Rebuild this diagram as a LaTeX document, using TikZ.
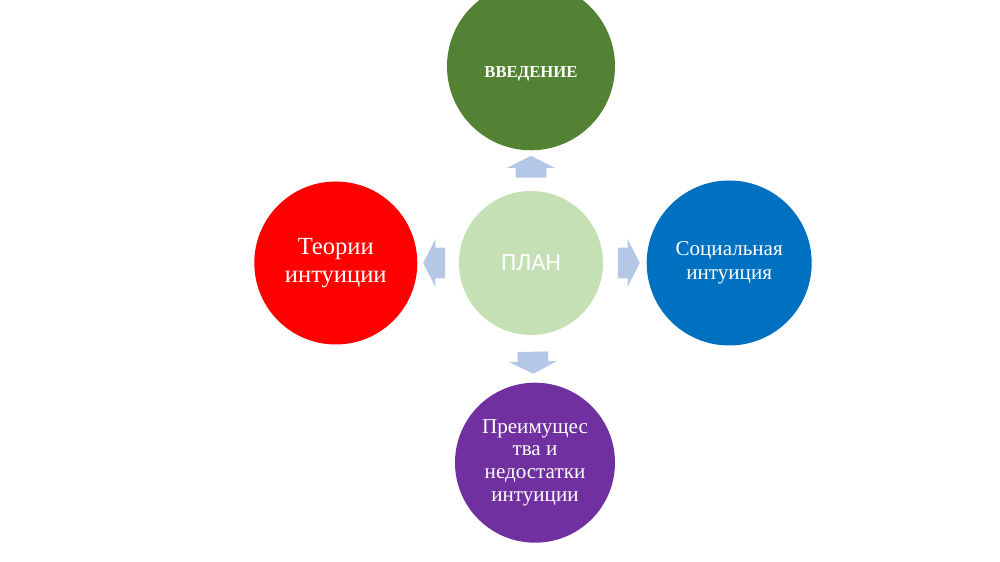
\documentclass[tikz,border=0pt]{standalone}
\usepackage{fontspec}
\setmainfont{Liberation Serif}
\newfontfamily\plansans{Carlito}
\usetikzlibrary{positioning,shapes.arrows}

\definecolor{introgreen}{HTML}{548235}
\definecolor{plangreen}{HTML}{C5E0B4}
\definecolor{theoryred}{HTML}{FF0000}
\definecolor{socialblue}{HTML}{0070C0}
\definecolor{prospurple}{HTML}{7030A0}
\definecolor{arrowblue}{HTML}{B4C7E7}

\begin{document}
\begin{tikzpicture}[
		node distance=0.85cm,
		topic/.style={circle, minimum size=3.3cm, inner sep=2pt, text=white, align=center, font=\fontsize{12}{14}\selectfont},
		pointer/.style={single arrow, fill=arrowblue, minimum height=0.44cm, inner xsep=0pt, inner ysep=0.3cm, single arrow head extend=0.17cm, single arrow tip angle=126, midway, sloped, allow upside down},
	]
		\clip (0,0) rectangle (20,11.24);
		\fill[white] (0,0) rectangle (20,11.24);
		
		\node [topic, fill=plangreen, minimum size=2.88cm, font=\plansans\fontsize{14}{16}\selectfont] (plan) at (10.62,5.98) {ПЛАН};
		\node [topic, fill=introgreen, minimum size=3.36cm, above=0.8cm of plan, font=\bfseries\fontsize{9.5}{11}\selectfont] (intro) {\raisebox{-0.22cm}[0pt][0pt]{ВВЕДЕНИЕ}};
		\node [topic, fill=theoryred, minimum size=3.26cm, left=0.82cm of plan, font=\fontsize{14}{16}\selectfont] (theory) {Теории\\интуиции};
		\node [topic, fill=socialblue, minimum size=3.3cm, right=0.86cm of plan] (social) {Социальная\\интуиция};
		\node [topic, fill=prospurple, minimum size=3.2cm, below=0.94cm of plan, xshift=0.08cm, font=\fontsize{12}{13}\selectfont] (pros) {Преимущес\\тва и\\недостатки\\интуиции};
		
		\path (plan) -- (intro) node[pointer] (to intro) {};
		\path (plan) -- (theory) node[pointer] (to theory) {};
		\path (plan) -- (social) node[pointer] (to social) {};
		\path (plan) -- (pros) node[pointer] (to pros) {};
	\end{tikzpicture}
\end{document}
